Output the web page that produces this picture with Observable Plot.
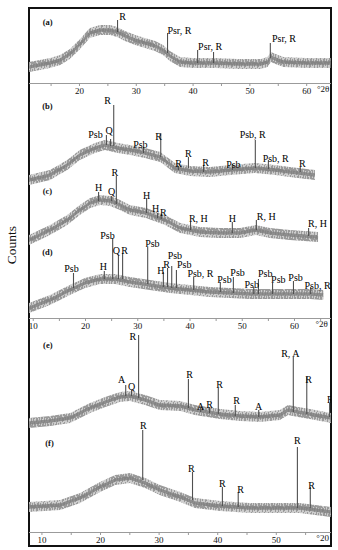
<!DOCTYPE html>
<html><head><meta charset="utf-8">
<script src="https://cdn.jsdelivr.net/npm/d3@7"></script>
<script src="https://cdn.jsdelivr.net/npm/@observablehq/plot@0.6"></script>
<style>
html,body{margin:0;padding:0;background:#fff;}
#fig{position:relative;width:338px;height:550px;overflow:hidden;font-family:'Liberation Serif','Times New Roman',Times,serif;}
#fig svg{position:absolute;left:29px;overflow:hidden;background:transparent;}
#frame{position:absolute;left:28px;top:7px;width:304px;height:540px;border:2px solid #111;box-sizing:border-box;}
#counts{position:absolute;left:12px;top:245px;transform:translate(-50%,-50%) rotate(-90deg);font-size:13.5px;color:#111;white-space:nowrap;}
</style></head><body>
<svg width="0" height="0" style="position:absolute"><defs>
<pattern id="noise" width="13" height="10" patternUnits="userSpaceOnUse"><rect width="13" height="10" fill="#cdcdcd"/><path d="M0.5 2V7M1.5 0V5M2.5 3V10M3.5 1V6M4.5 4V9M5.5 0V7M6.5 2V6M7.5 5V10M8.5 1V4M8.5 6V9M9.5 0V6M10.5 3V8M11.5 1V5M12.5 4V10" stroke="#8a8a8a" stroke-width="0.75"/></pattern>
</defs></svg>
<div id="fig"><div id="counts">Counts</div><div id="frame"></div></div>
<script>
// ---------- Panel (a): [2θ, counts] ----------
const baseA = [[11.2,16],[13.1,18],[14.9,20],[16.7,23],[18.4,29],[20.2,39],[21.9,50],[23.7,53],[25.5,53],[26.7,51],[28.1,47],[29.9,43],[31.6,40],[33.4,37],[34.8,33],[36,27],[37.8,21],[40,20],[44,20],[48,19],[52,19],[53.2,21],[53.8,26],[54.6,24],[56,21],[60,20],[64.3,20]];
const peaksA = [[26.7,63,51],[35.5,50,30],[40.8,33,20],[43.6,31,20],[53.6,40,25]]; // [2θ, top, foot]
const labelsA = [["R",27.6,67],["Psr, R",37.6,53],["Psr, R",43.0,37],["Psr, R",56.0,45]];
const tagsA = [["(a)",14.4,61]];
const ticksA = [20,30,40,50,60];
const minorA = [15,25,35,45,55];
const unitA = [["°2θ",62.9]];

// ---------- Panel (b)(c)(d) ----------
const baseB = [[9.3,138],[13.3,143],[16.6,153],[19,163],[21.9,170],[23.8,173],[26.3,170],[28.6,168],[31.5,165],[34.4,161],[37.2,150],[40.1,147],[43.9,146],[47.8,148],[52.5,150],[56.4,148],[59.2,146],[64,143]];
const peaksB = [[24.0,183,173],[24.8,179,172],[25.4,213,172],[31.1,171,165],[34.4,185,161],[37.8,152,148],[39.7,161,150],[42.6,153,146],[48.1,154,148],[52.5,178,150],[55.0,158,149],[61.1,151,146]];
const labelsB = [["R",24.2,218],["Psb",21.9,184],["Q",24.5,188],["Psb",30.5,174],["R",34.0,182],["R",37.8,155],["R",39.7,165],["R",43.0,156],["Psb",48.3,154],["Psb, R",52.0,184],["Psb, R",56.4,160],["R",61.5,155]];

const baseC = [[9.3,78],[13.3,88],[16.6,98],[19,108],[21,115],[22.9,118],[24.8,117],[26.7,113],[28.6,108],[31.7,105],[35.3,98],[38.2,90],[42,86],[45.8,85],[49.7,85],[52.7,88],[55.4,85],[59.2,83],[64.6,81]];
const peaksC = [[22.5,126,117],[25.0,122,117],[25.9,142,114],[31.7,120,105],[33.8,105,100],[34.5,104,99],[40.1,96,88],[48.1,96,85],[52.7,98,88],[62.7,90,82]];
const labelsC = [["H",22.5,131],["Q",25.0,127],["R",25.6,146],["H",31.7,123],["H",33.4,110],["R",34.9,106],["R, H",41.6,100],["H",48.1,100],["R, H",54.6,102],["R, H",64.4,95]];

const baseD = [[9.3,10],[13.3,18],[17.1,28],[20,35],[22.9,39],[25.7,39],[28.6,36],[32.4,33],[36.3,30],[40.1,28],[43.9,26],[47.8,25],[51.6,24],[55.4,24],[59.2,24],[63.1,24],[65.6,23]];
const peaksD = [[17.7,45,30],[23.6,47,39],[25.2,80,39],[26.3,63,39],[27.1,65,39],[31.9,71,34],[34.9,46,31],[35.7,50,31],[36.5,52,30],[37.4,48,30],[40.7,41,28],[45.8,36,26],[48.3,41,25],[52.2,31,24],[53.1,39,24],[55.8,35,24],[59.8,37,24],[63.1,31,24]];
const labelsD = [["Psb",17.3,50],["H",23.4,52],["Psb",24.2,83],["Q",25.9,68],["R",27.5,68],["Psb",32.8,75],["H",34.4,48],["R",35.5,54],["Psb",37.1,63],["Psb",38.9,54],["Psb, R",42.0,45],["Psb",46.6,39],["Psb",49.1,46],["Psb",51.8,34],["Psb",54.4,45],["Psb",56.9,39],["Psb",60.2,41],["Psb, R",64.4,33]];
const tagsBCD = [["(b)",12.7,212],["(c)",12.7,127],["(d)",12.7,66]];
const ticksBCD = [10,20,30,40,50,60];
const minorBCD = [15,25,35,45,55,65];
const unitBCD = [["°2θ",65.2]];

// ---------- Panel (e)(f) ----------
const baseE = [[7.9,109],[11.5,111],[14.9,114],[18.3,124],[20.9,130],[23.4,135],[25.1,136],[27.7,132],[30.2,127],[33.7,126],[36.2,122],[40.5,118],[43.9,116],[47.3,115],[50.7,117],[52.1,122],[53.8,120],[55.8,118],[59.4,114]];
const peaksE = [[24.3,147,136],[25.3,142,136],[26.5,197,134],[35.0,153,124],[37.1,124,120],[38.6,125,119],[40.1,144,118],[43.0,127,116],[47.0,122,115],[52.9,175,120],[55.2,155,118],[59.1,129,115]];
const labelsE = [["R",25.5,196],["A",23.6,153],["Q",25.3,146],["R",35.2,158],["A",37.1,126],["R",38.6,128],["R",40.3,148],["R",43.2,132],["A",47.0,126],["R, A",52.4,179],["R",55.5,153],["R",59.2,133]];

const baseF = [[7.9,25],[13.2,27],[16.6,34],[20,45],[22.6,52],[25.1,54],[27.7,49],[30.2,42],[33.7,35],[36.2,29],[40.5,26],[45.6,24],[50.7,24],[54.1,24],[59.4,20]];
const peaksF = [[27.2,102,52],[35.7,60,32],[40.8,45,26],[43.5,40,25],[53.6,85,24],[55.8,45,24]];
const labelsF = [["R",27.3,107],["R",35.5,64],["R",40.8,49],["R",43.9,43],["R",53.6,92],["R",56.0,47]];
const tagsEF = [["(e)",11.0,187],["(f)",11.3,89]];
const ticksEF = [10,20,30,40,50];
const minorEF = [15,25,35,45,55];
const unitEF = [["°20",57.9]];

const FONT = "'Liberation Serif','Times New Roman',Times,serif";
const BAND = 5;
const CORE = 1.8;

function panel(o) {
  const marks = [Plot.ruleY([0], {stroke: "#9b9b9b", strokeWidth: 1})];
  for (const t of o.traces) {
    marks.push(Plot.areaY(t, {x: d => d[0], y1: d => d[1] - BAND, y2: d => d[1] + BAND, fill: "url(#noise)"}));
    marks.push(Plot.areaY(t, {x: d => d[0], y1: d => d[1] - CORE, y2: d => d[1] + CORE, fill: "#7e7e7e", fillOpacity: 0.8}));
  }
  for (const p of o.peaks) {
    marks.push(Plot.ruleX(p, {x: d => d[0], y1: d => d[2], y2: d => d[1], stroke: "#505050", strokeWidth: 1.1}));
  }
  for (const l of o.labels) {
    marks.push(Plot.text(l, {x: d => d[1], y: d => d[2], text: d => d[0], fontSize: 10, fontFamily: FONT, fill: "#000"}));
  }
  marks.push(Plot.text(o.tags, {x: d => d[1], y: d => d[2], text: d => d[0], fontSize: 8.5, fontWeight: "bold", fontFamily: FONT, fill: "#111"}));
  marks.push(Plot.axisX(o.minor, {tickSize: 3, tickFormat: () => "", stroke: "#999"}));
  marks.push(Plot.axisX(o.ticks, {tickSize: 3, tickPadding: 1, fontSize: 9, fontFamily: FONT, fill: "#111", stroke: "#999"}));
  marks.push(Plot.text(o.unit, {x: d => d[1], text: d => d[0], frameAnchor: "bottom", dy: 8, fontSize: 9, fontFamily: FONT, fill: "#111"}));
  const svg = Plot.plot({
    width: 302, height: o.h + 14,
    marginLeft: 0, marginRight: 0, marginTop: 0, marginBottom: 14,
    x: {domain: o.domain},
    y: {domain: [0, o.h], axis: null},
    style: {background: "transparent", fontFamily: FONT},
    marks
  });
  svg.style.top = o.top + "px";
  document.getElementById("fig").appendChild(svg);
}

panel({top: 8, h: 75, domain: [11.2, 64.37], traces: [baseA], peaks: [peaksA], labels: [labelsA], tags: tagsA, ticks: ticksA, minor: minorA, unit: unitA});
panel({top: 95, h: 223, domain: [9.28, 67.08], traces: [baseB, baseC, baseD], peaks: [peaksB, peaksC, peaksD], labels: [labelsB, labelsC, labelsD], tags: tagsBCD, ticks: ticksBCD, minor: minorBCD, unit: unitBCD});
panel({top: 332, h: 200, domain: [7.88, 59.42], traces: [baseE, baseF], peaks: [peaksE, peaksF], labels: [labelsE, labelsF], tags: tagsEF, ticks: ticksEF, minor: minorEF, unit: unitEF});
</script></body></html>
